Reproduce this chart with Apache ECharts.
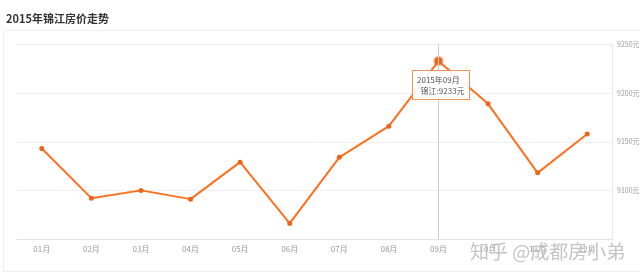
<!DOCTYPE html>
<html>
<head>
<meta charset="utf-8">
<script src="https://cdn.jsdelivr.net/npm/echarts@6/dist/echarts.min.js"></script>
<style>
html,body{margin:0;padding:0;background:#fff;}
#c{width:640px;height:278px;}
</style>
</head>
<body>
<div id="c"></div>
<script>
const titleText = '2015年锦江房价走势';
const seriesName = '锦江';
const months = ['01月','02月','03月','04月','05月','06月','07月','08月','09月','10月','11月','12月'];
const prices = [9143, 9092, 9100, 9091, 9129, 9066, 9134, 9166, 9233, 9189, 9118, 9158];
const yTicks = [9050, 9100, 9150, 9200, 9250];
const watermark = '知乎 @成都房小弟';

const lineColor = '#e8661c';
const chart = echarts.init(document.getElementById('c'), null, {renderer: 'canvas'});
chart.setOption({
  animation: false,
  title: {
    text: titleText, left: 1, top: 8,
    textStyle: {fontSize: 11, fontWeight: 'bold', color: '#333', fontFamily: 'Noto Sans CJK SC'}
  },
  graphic: [
    {type: 'rect', z: -10, shape: {x: 3.5, y: 30.5, width: 650, height: 241},
     style: {fill: 'none', stroke: '#eeeeee', lineWidth: 1}},
    {type: 'text', left: 470, top: 242, z: 100,
     style: {text: watermark, fontSize: 19, fill: '#c4c4c4', fontFamily: 'Noto Sans CJK SC'}}
  ],
  tooltip: {
    trigger: 'axis',
    alwaysShowContent: true,
    transitionDuration: 0,
    position: [412, 70],
    backgroundColor: 'rgba(255,255,255,0.9)',
    borderColor: '#f0935a',
    borderWidth: 1,
    padding: [3, 4],
    extraCssText: 'box-shadow:none;border-radius:0;line-height:11px;',
    textStyle: {fontSize: 8, color: '#555', fontFamily: 'Noto Sans CJK SC'},
    axisPointer: {type: 'line', lineStyle: {color: '#cccccc', width: 1, type: 'solid'}},
    formatter: function (p) {
      return '2015年' + p[0].name + '<br/>&nbsp;&nbsp;' + p[0].seriesName + ':' + p[0].value + '元';
    }
  },
  grid: {left: 17, right: 28, top: 44.5, bottom: 39, containLabel: false, outerBoundsMode: 'none'},
  xAxis: {
    type: 'category', data: months, boundaryGap: true,
    axisLine: {lineStyle: {color: '#e3e3e3'}},
    axisTick: {show: false},
    axisLabel: {fontSize: 8, color: '#999', margin: 6, fontFamily: 'Noto Sans CJK SC'},
    splitLine: {show: false}
  },
  yAxis: {
    type: 'value', position: 'right',
    min: yTicks[0], max: yTicks[yTicks.length - 1], interval: 50,
    axisLine: {show: true, lineStyle: {color: '#e8e8e8'}},
    axisTick: {show: false},
    axisLabel: {fontSize: 7, color: '#999', margin: 5, showMinLabel: false,
      formatter: function (v) { return String(v) + '元'; }, fontFamily: 'Noto Sans CJK SC'},
    splitLine: {lineStyle: {color: '#eeeeee'}}
  },
  series: [{
    name: seriesName, type: 'line', data: prices,
    symbol: 'circle', symbolSize: 5,
    lineStyle: {color: lineColor, width: 2},
    itemStyle: {color: lineColor},
    emphasis: {scale: 1.6, itemStyle: {color: lineColor, borderColor: 'rgba(234,106,30,0.3)', borderWidth: 3}}
  }]
});
chart.dispatchAction({type: 'showTip', seriesIndex: 0, dataIndex: 8});
chart.dispatchAction({type: 'highlight', seriesIndex: 0, dataIndex: 8});
</script>
</body>
</html>
